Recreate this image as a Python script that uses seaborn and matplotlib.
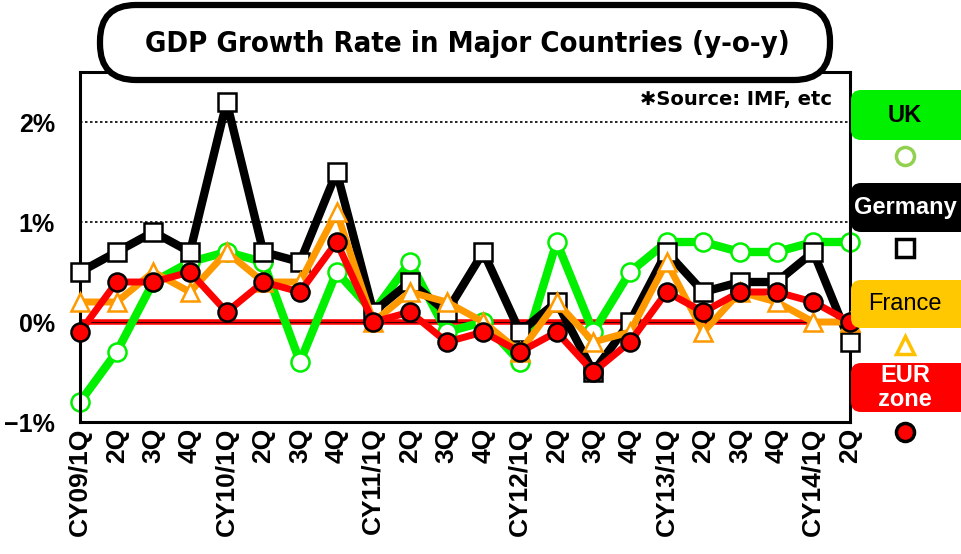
import numpy as np
import pandas as pd
import seaborn as sns
from matplotlib import pyplot as plt
from matplotlib.patches import FancyBboxPatch
from matplotlib.lines import Line2D
from matplotlib.transforms import IdentityTransform

# quarterly y-o-y GDP growth (%)
quarters = ["CY09/1Q", "2Q", "3Q", "4Q",
            "CY10/1Q", "2Q", "3Q", "4Q",
            "CY11/1Q", "2Q", "3Q", "4Q",
            "CY12/1Q", "2Q", "3Q", "4Q",
            "CY13/1Q", "2Q", "3Q", "4Q",
            "CY14/1Q", "2Q"]
uk = [-0.8, -0.3, 0.4, 0.6, 0.7, 0.6, -0.4, 0.5, 0.1, 0.6, -0.1,
      0.0, -0.4, 0.8, -0.1, 0.5, 0.8, 0.8, 0.7, 0.7, 0.8, 0.8]
germany = [0.5, 0.7, 0.9, 0.7, 2.2, 0.7, 0.6, 1.5, 0.1, 0.4, 0.1,
           0.7, -0.1, 0.2, -0.5, 0.0, 0.7, 0.3, 0.4, 0.4, 0.7, -0.2]
france = [0.2, 0.2, 0.5, 0.3, 0.7, 0.4, 0.4, 1.1, 0.0, 0.3, 0.2,
          0.0, -0.3, 0.2, -0.2, -0.1, 0.6, -0.1, 0.3, 0.2, 0.0, 0.0]
eur = [-0.1, 0.4, 0.4, 0.5, 0.1, 0.4, 0.3, 0.8, 0.0, 0.1, -0.2,
       -0.1, -0.3, -0.1, -0.5, -0.2, 0.3, 0.1, 0.3, 0.3, 0.2, 0.0]
yticks = [-1, 0, 1, 2]
ytick_labels = ["\u22121%", "0%", "1%", "2%"]

sns.set_theme(style="white")
plt.rcParams['font.family'] = ['Liberation Sans', 'DejaVu Sans']
for k in ["text.color", "xtick.color", "ytick.color", "axes.labelcolor"]:
    plt.rcParams[k] = "black"

W, H = 961, 554
fig = plt.figure(figsize=(W / 100, H / 100), dpi=100)
ax = fig.add_axes([80 / W, 1 - 422 / H, 770 / W, 350 / H])

x = np.arange(len(quarters))

#### series: line colour, marker, marker face, marker edge, line width
styles = [
    (uk, "#00F000", "o", "white", "#00F000", 6),
    (germany, "black", "s", "white", "black", 6),
    (france, "#FF9900", "^", "white", "#FF9900", 5),
    (eur, "#FF0000", "o", "#FF0000", "black", 5),
]

ax.axhline(0, color="#FF0000", lw=4, zorder=1)
ax.axhline(0, color="#400000", lw=0.8, zorder=1.1)
for l in [1, 2]:
    ax.axhline(l, color="black", lw=1.2, ls=(0, (1.5, 1.5)), zorder=0.5)

for i, (vals, c, m, mfc, mec, lw) in enumerate(styles):
    sns.lineplot(x=x, y=vals, ax=ax, color=c, lw=lw, marker=m, markersize=13,
                 markerfacecolor=mfc, markeredgecolor=mec, markeredgewidth=1.8,
                 clip_on=False, zorder=2 + i)

ax.set_xlim(0, 21)
ax.set_ylim(-1, 2.5)
ax.set_xticks(x)
ax.set_xticklabels(quarters, rotation=90, fontsize=19, fontweight="bold")
ax.set_yticks(yticks)
ax.set_yticklabels(ytick_labels, fontsize=18, fontweight="bold")
ax.tick_params(axis="both", length=0, pad=4)
ax.tick_params(axis="y", pad=18)
for s in ax.spines.values():
    s.set_color("black")
    s.set_linewidth(2.2)
ax.set_xlabel("")
ax.set_ylabel("")

ax.text(832 / W, 1 - 100 / H, "\u2731Source: IMF, etc", transform=fig.transFigure,
        ha="right", va="center", fontsize=14, fontweight="bold",
        family=["DejaVu Sans", "Liberation Sans"])

idt = IdentityTransform()

# title in rounded box
title_box = FancyBboxPatch((100, H - 80), 730, 75,
                           boxstyle="round,pad=0,rounding_size=36",
                           transform=idt, fc="white", ec="black", lw=4.5, zorder=10)
fig.add_artist(title_box)
fig.text(467 / W, 1 - 44 / H, "GDP Growth Rate in Major Countries (y-o-y)",
         ha="center", va="center", fontsize=21, fontweight="bold",
         fontstretch="condensed", family=["DejaVu Sans"], zorder=11)

#### legend boxes on the right
legend = [
    ("UK", 90, 140, "#00F000", "black", "bold", "o", "white", "#92D050", 156),
    ("Germany", 183, 232, "black", "white", "bold", "s", "white", "black", 248),
    ("France", 280, 328, "#FFC800", "black", "normal", "^", "white", "#FFC000", 345),
    ("EUR\nzone", 363, 412, "#FF0000", "white", "bold", "o", "#FF0000", "black", 432),
]
for label, y0, y1, fc, tc, fw, m, mfc, mec, my in legend:
    box = FancyBboxPatch((851, H - y1), 140, y1 - y0,
                         boxstyle="round,pad=0,rounding_size=10",
                         transform=idt, fc=fc, ec="none", zorder=10)
    fig.add_artist(box)
    fig.text(905 / W, 1 - (y0 + y1) / 2 / H, label, ha="center", va="center",
             color=tc, fontsize=17, fontweight=fw, linespacing=1.0, zorder=11)
    fig.add_artist(Line2D([905], [H - my], transform=idt, marker=m, markersize=13,
                          markerfacecolor=mfc, markeredgecolor=mec,
                          markeredgewidth=2.5, zorder=11))

plt.savefig("out.png", dpi=100)
